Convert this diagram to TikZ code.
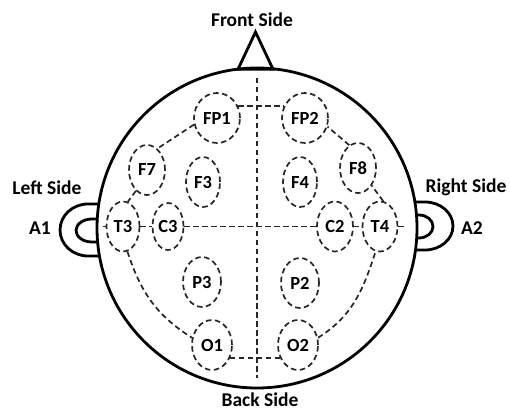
\documentclass[tikz,border=0pt]{standalone}
\usepackage{fontspec}
\setmainfont{Carlito}
\usetikzlibrary{shapes.geometric}
\begin{document}
\begin{tikzpicture}[x=1pt,y=1pt,
  thickline/.style={line width=2.8pt, line join=miter},
  dashline/.style={line width=1.7pt, dash pattern=on 5.5pt off 3.5pt, draw=black!85},
  elec/.style={ellipse, draw, dashline, inner sep=0pt, font=\bfseries\fontsize{18.5}{19}\selectfont, text=black},
  side/.style={font=\bfseries\fontsize{19.5}{20}\selectfont, inner sep=0pt, text=black},
]
\useasboundingbox (0,0) rectangle (510,412);

% head
\coordinate (hc) at (257,184);
\draw[thickline] (hc) circle[radius=160];
% nose
\draw[thickline] (238,342.8) -- (255.5,380) -- (273,342.8) -- cycle;
% left ear
\draw[thickline] (98.7,208) -- (88,208) arc[start angle=90,end angle=270,x radius=28,y radius=26] -- (99.5,156);
\draw[thickline] (97.3,193) -- (92,193) arc[start angle=90,end angle=270,x radius=16,y radius=11.5] -- (97.3,170);
% right ear
\draw[thickline] (414.9,210) -- (425,210) arc[start angle=90,end angle=-90,x radius=28,y radius=24] -- (414.9,162);
\draw[thickline] (416.6,197) -- (419,197) arc[start angle=90,end angle=-90,x radius=14,y radius=11.5] -- (416.6,174);

% side labels
\node[side] (front) at (252,392) {Front Side};
\node[side] (back) at (260,12) {Back Side};
\node[side] (left) at (47,224) {Left Side};
\node[side] (right) at (466,225) {Right Side};
\node[side] (a1) at (40,184) {A1};
\node[side] (a2) at (472,184) {A2};

% electrodes
\node[elec, minimum width=46, minimum height=50] (FP1) at (217,294) {FP1};
\node[elec, minimum width=46, minimum height=50] (FP2) at (305,294) {FP2};
\node[elec, minimum width=36, minimum height=50] (F7) at (147,242) {F7};
\node[elec, minimum width=36, minimum height=50] (F8) at (358,244) {F8};
\node[elec, minimum width=34, minimum height=50] (F3) at (203,230) {F3};
\node[elec, minimum width=34, minimum height=50] (F4) at (300,230) {F4};
\node[elec, minimum width=33, minimum height=50] (T3) at (123,185.5) {T3};
\node[elec, minimum width=31, minimum height=47] (C3) at (168,185.5) {C3};
\node[elec, minimum width=36, minimum height=50] (C2) at (335,185.5) {C2};
\node[elec, minimum width=35, minimum height=50] (T4) at (380,185.5) {T4};
\node[elec, minimum width=38, minimum height=50] (P3) at (202,130) {P3};
\node[elec, minimum width=38, minimum height=50] (P2) at (300,129) {P2};
\node[elec, minimum width=40, minimum height=50] (O1) at (212,67) {O1};
\node[elec, minimum width=40, minimum height=50] (O2) at (298,67) {O2};

% midlines
\coordinate (vt) at (257,334);
\coordinate (vb) at (257,34);
\coordinate (hl) at (103,185.5);
\coordinate (hr) at (405,185.5);
\draw[dashline] (vt) -- (vb);
\draw[dashline] (hl) -- (T3.west);
\draw[dashline] (T3.east) -- (C3.west);
\draw[dashline] (C3.east) -- (C2.west);
\draw[dashline] (C2.east) -- (T4.west);
\draw[dashline] (T4.east) -- (hr);

% outer chain
\draw[dashline] (FP1.29) -- (FP2.151);
\draw[dashline] (FP1.196) -- (F7.64);
\draw[dashline] (F7.242) -- (T3.79);
\draw[dashline] (T3.-80) to[out=-72,in=148] (O1.160);
\draw[dashline] (O1.-36) -- (O2.216);
\draw[dashline] (O2.20) to[out=32,in=-108] (T4.-100);
\draw[dashline] (T4.83) -- (F8.-52);
\draw[dashline] (F8.111) -- (FP2.-21);
\end{tikzpicture}
\end{document}
